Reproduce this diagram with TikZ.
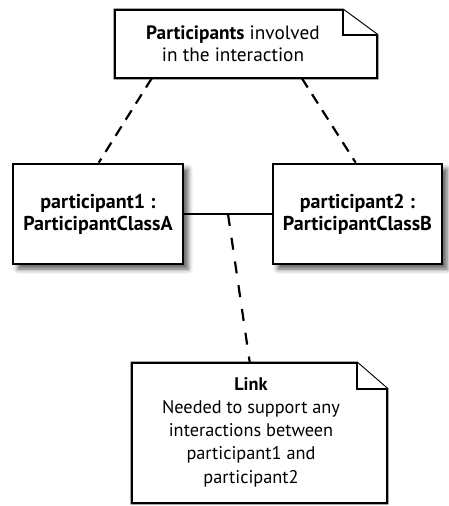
\documentclass[tikz,border=0pt]{standalone}
\usepackage{fontspec}
\setmainfont{PT Sans}
\usetikzlibrary{shadows.blur,calc}
\tikzset{
  objbox/.style={draw=black, line width=2.6pt, fill=white, inner sep=0pt,
    align=center, font=\bfseries\fontsize{20}{22}\selectfont,
    blur shadow={shadow xshift=5pt, shadow yshift=-5pt, shadow blur radius=5pt, shadow opacity=65}},
  noteshape/.style={inner sep=0pt},
  noteline/.style={draw=black, line width=2.2pt, fill=white, line join=miter},
  notetext/.style={align=center, inner sep=0pt},
  dashlink/.style={line width=2.2pt, dash pattern=on 11pt off 8pt},
  solidlink/.style={line width=2.2pt}
}
\begin{document}
\begin{tikzpicture}[x=1pt,y=-1pt]
\useasboundingbox (0,0) rectangle (448,506);
% top note
\node[noteshape, minimum width=262pt, minimum height=68pt] (tn) at (246,44) {};
\draw[noteline] (tn.south west) -- (tn.north west) -- ([xshift=-34pt]tn.north east)
  -- ([yshift=-25pt]tn.north east) -- (tn.south east) -- cycle;
\draw[noteline] ([xshift=-34pt]tn.north east) |- ([yshift=-25pt]tn.north east);
\node[notetext, font=\fontsize{19.3}{22}\selectfont] (tnt) at (233,44) {\textbf{Participants} involved\\in the interaction};
% participants
\node[objbox, minimum width=170pt, minimum height=100pt] (A) at (98,214) {participant1 :\\ParticipantClassA};
\node[objbox, minimum width=169pt, minimum height=100pt] (B) at (357.5,214) {participant2 :\\ParticipantClassB};
\draw[solidlink] (A.east) -- (B.west);
\coordinate (lk) at ($(A.east)!0.5!(B.west)$);
% bottom note
\node[noteshape, minimum width=255pt, minimum height=140pt] (bn) at (259.5,433) {};
\draw[noteline] (bn.south west) -- (bn.north west) -- ([xshift=-30pt]bn.north east)
  -- ([yshift=-26pt]bn.north east) -- (bn.south east) -- cycle;
\draw[noteline] ([xshift=-30pt]bn.north east) |- ([yshift=-26pt]bn.north east);
\node[notetext, font=\fontsize{18.3}{23.2}\selectfont] (bnt) at (251,432) {\textbf{Link}\\Needed to support any\\interactions between\\participant1 and\\participant2};
% dashed connectors
\draw[dashlink] ([xshift=37pt]tn.south west) -- ([xshift=87pt]A.north west);
\draw[dashlink] ([xshift=187pt]tn.south west) -- ([xshift=84pt]B.north west);
\draw[dashlink, dash pattern=on 12pt off 12pt] (lk) -- ([xshift=118pt]bn.north west);
\end{tikzpicture}
\end{document}
